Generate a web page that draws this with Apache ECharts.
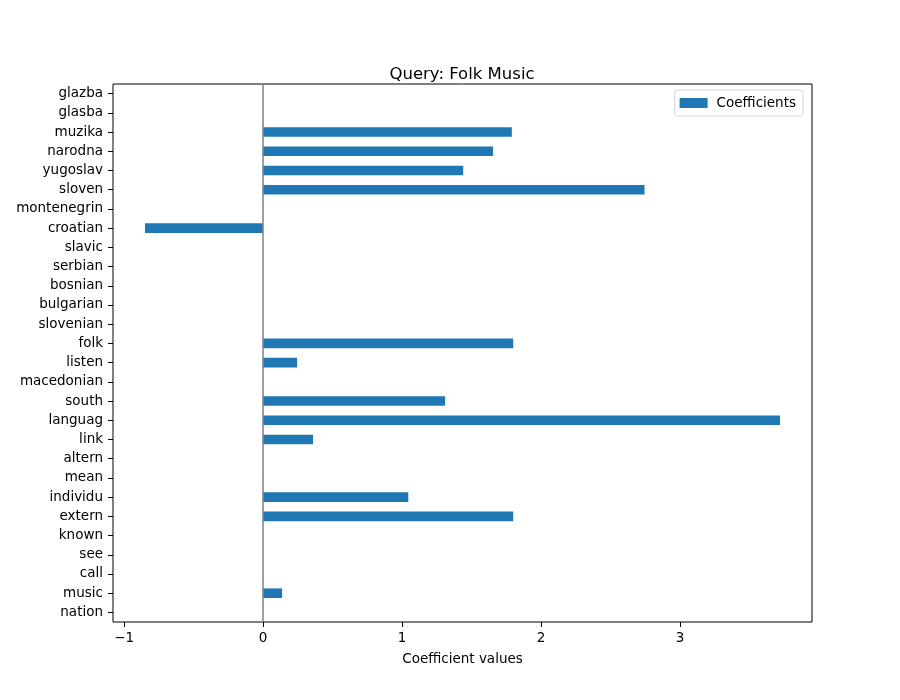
<!DOCTYPE html>
<html lang="en">

<head>
  <meta charset="UTF-8">
  <title>Query: Folk Music</title>
  <style>
    html, body { margin: 0; padding: 0; background: #ffffff; }
    #main { width: 900px; height: 700px; }
  </style>
  <script src="https://cdn.jsdelivr.net/npm/echarts@6/dist/echarts.min.js"></script>
</head>

<body>
  <div id="main"></div>

  <script>
    // categories, bottom to top
    var terms = ['nation', 'music', 'call', 'see', 'known', 'extern', 'individu', 'mean', 'altern', 'link',
      'languag', 'south', 'macedonian', 'listen', 'folk', 'slovenian', 'bulgarian', 'bosnian', 'serbian',
      'slavic', 'croatian', 'montenegrin', 'sloven', 'yugoslav', 'narodna', 'muzika', 'glasba', 'glazba'];
    var coefficients = [0, 0.137, 0, 0, 0, 1.80, 1.045, 0, 0, 0.36,
      3.72, 1.31, 0, 0.245, 1.80, 0, 0, 0, 0,
      0, -0.85, 0, 2.745, 1.44, 1.655, 1.79, 0, 0];
    var xTicks = [-1, 0, 1, 2, 3];
    var zeroLine = 0;

    var font = 'DejaVu Sans';
    var myChart = echarts.init(document.getElementById('main'));

    var option = {
      animation: false,
      backgroundColor: '#ffffff',
      title: {
        text: 'Query: Folk Music',
        left: 457,
        top: 61,
        textAlign: 'center',
        textStyle: { fontFamily: font, fontSize: 16.5, fontWeight: 'normal', color: '#000' }
      },
      legend: {
        data: ['Coefficients'],
        icon: 'rect',
        right: 97,
        top: 90,
        padding: [6, 7, 6, 5],
        itemWidth: 28,
        itemHeight: 10,
        itemGap: 8,
        borderColor: '#d6d6d6',
        borderWidth: 1,
        borderRadius: 3,
        textStyle: { fontFamily: font, fontSize: 13.5, color: '#000', padding: [0, 0, 0, 4] }
      },
      grid: {
        left: 113,
        right: 88,
        top: 84,
        bottom: 78,
        show: true,
        borderColor: '#000',
        borderWidth: 1
      },
      xAxis: {
        type: 'value',
        min: -1.08,
        max: 3.95,
        name: 'Coefficient values',
        nameLocation: 'middle',
        nameGap: 30,
        nameTextStyle: { fontFamily: font, fontSize: 13.5, color: '#000' },
        axisLine: { onZero: false, lineStyle: { color: '#000', width: 1 } },
        axisTick: { show: true, length: 5, customValues: xTicks, lineStyle: { color: '#000' } },
        axisLabel: {
          customValues: xTicks,
          margin: 9,
          fontFamily: font,
          fontSize: 13.5,
          color: '#000',
          formatter: function (v) { return String(v).replace('-', '\u2212'); }
        },
        splitLine: { show: false }
      },
      yAxis: {
        type: 'category',
        data: terms,
        axisLine: { show: false, onZero: false },
        axisTick: { show: true, alignWithLabel: true, length: 5, lineStyle: { color: '#000' } },
        axisLabel: { interval: 0, margin: 10, fontFamily: font, fontSize: 13.5, color: '#000' },
        splitLine: { show: false }
      },
      series: [
        {
          name: 'Coefficients',
          type: 'bar',
          data: coefficients,
          barWidth: '50%',
          itemStyle: { color: '#1f77b4' },
          markLine: {
            silent: true,
            symbol: 'none',
            label: { show: false },
            lineStyle: { color: '#808080', width: 1.5, type: 'solid' },
            data: [{ xAxis: zeroLine }]
          }
        }
      ]
    };

    myChart.setOption(option);
  </script>
</body>

</html>
